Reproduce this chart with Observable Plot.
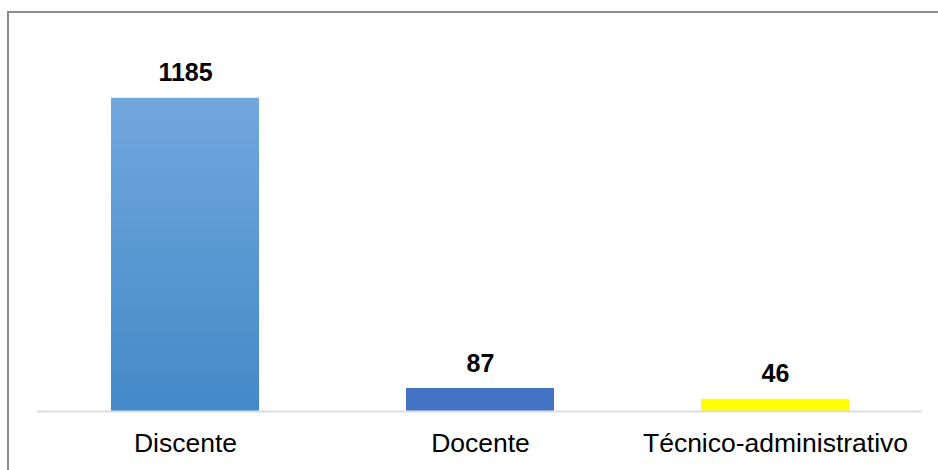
<!DOCTYPE html>
<html>
<head>
<meta charset="utf-8">
<script src="https://cdn.jsdelivr.net/npm/d3@7"></script>
<script src="https://cdn.jsdelivr.net/npm/@observablehq/plot@0.6"></script>
<style>
  html, body { margin: 0; padding: 0; background: #fff; }
  #wrap { position: relative; width: 938px; height: 470px; overflow: hidden; }
  #border { position: absolute; left: 7px; top: 11px; width: 1000px; height: 1000px;
            border-left: 2px solid #8c8c8c; border-top: 2px solid #8c8c8c; box-sizing: border-box; pointer-events: none; }
  #chart { position: absolute; left: 0; top: 0; }
</style>
</head>
<body>
<div id="wrap"><div id="chart"></div><div id="border"></div></div>
<script>
const categories = ["Discente", "Docente", "Técnico-administrativo"];
const values = [1185, 87, 46];
const fills = ["url(#gradDiscente)", "#4472C4", "#FFFF00"];

const data = categories.map((c, i) => ({category: c, value: values[i], fill: fills[i]}));

const defs = () => {
  const d = d3.create("svg:defs");
  const g = d.append("linearGradient").attr("id", "gradDiscente")
    .attr("x1", 0).attr("y1", 0).attr("x2", 0).attr("y2", 1);
  g.append("stop").attr("offset", "0%").attr("stop-color", "#71a7dd");
  g.append("stop").attr("offset", "100%").attr("stop-color", "#4389c8");
  return d.node();
};

const chart = Plot.plot({
  width: 938,
  height: 470,
  marginLeft: 37,
  marginRight: 16,
  marginTop: 41,
  marginBottom: 59,
  style: {fontFamily: "'Liberation Sans', Arial, sans-serif", background: "transparent"},
  x: {domain: categories, paddingInner: 0.5, paddingOuter: 0.25, label: null},
  y: {domain: [0, 1400], axis: null},
  marks: [
    defs,
    Plot.barY(data, {x: "category", y: "value", fill: "fill"}),
    Plot.ruleY([0], {stroke: "#d9dee6", strokeWidth: 2}),
    Plot.text(data, {x: "category", y: "value", text: d => String(d.value), dy: -17,
      lineAnchor: "bottom", fontWeight: "bold", fontSize: 25, fill: "#000"}),
    Plot.axisX({tickSize: 0, tickPadding: 22, fontSize: 26.5, fill: "#000", label: null})
  ]
});
document.getElementById("chart").appendChild(chart);
</script>
</body>
</html>
